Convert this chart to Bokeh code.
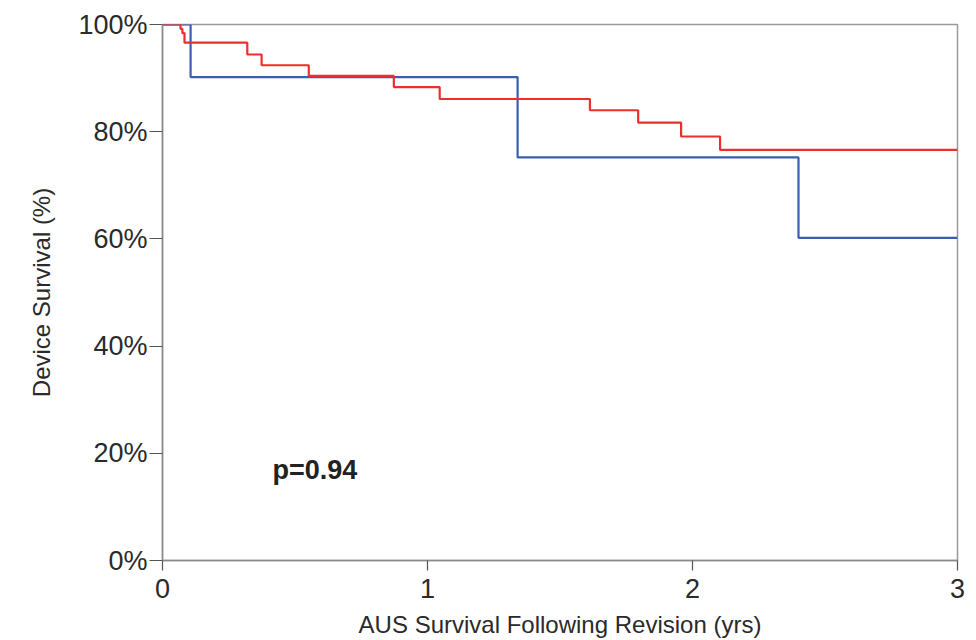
from bokeh.plotting import figure
from bokeh.models import Range1d, Label
from bokeh.embed import file_html
from bokeh.resources import INLINE

# Kaplan-Meier style step data (years, % survival)
red_t = [0.0, 0.068, 0.075, 0.083, 0.32, 0.374, 0.552, 0.873, 1.046, 1.613, 1.795, 1.957, 2.104, 3.0]
red_s = [100.0, 99.2, 98.4, 96.6, 94.4, 92.4, 90.4, 88.3, 86.1, 84.0, 81.7, 79.1, 76.6, 76.6]
blue_t = [0.0, 0.106, 1.34, 2.40, 3.0]
blue_s = [100.0, 90.2, 75.2, 60.2, 60.2]

x_ticks = [0, 1, 2, 3]
y_ticks = [0, 20, 40, 60, 80, 100]
y_tick_labels = ["0%", "20%", "40%", "60%", "80%", "100%"]
p_label = "p=0.94"

FONT = "Liberation Sans"

p = figure(width=976, height=640, output_backend="svg", toolbar_location=None,
           x_range=Range1d(0, 3), y_range=Range1d(0, 100),
           min_border_left=162, min_border_right=19, min_border_top=24, min_border_bottom=80)
p.background_fill_color = "white"
p.border_fill_color = "white"
p.outline_line_color = "#9a9a9a"
p.outline_line_width = 1.5
p.xgrid.visible = False
p.ygrid.visible = False

p.step(blue_t, blue_s, mode="after", line_color="#3a5fae", line_width=2.2)
p.step(red_t, red_s, mode="after", line_color="#ee2e2e", line_width=2.2)

for ax in (p.xaxis, p.yaxis):
    ax.axis_line_color = "#8a8a8a"
    ax.axis_line_width = 1.5
    ax.major_tick_line_color = "#555555"
    ax.major_tick_line_width = 1.2
    ax.minor_tick_line_color = None
    ax.major_tick_in = 0
    ax.major_label_text_font = FONT
    ax.major_label_text_font_size = "27px"
    ax.major_label_text_color = "#2a2a2a"
    ax.axis_label_text_font = FONT
    ax.axis_label_text_font_size = "24px"
    ax.axis_label_text_font_style = "normal"
    ax.axis_label_text_color = "#2a2a2a"

p.xaxis.ticker = x_ticks
p.xaxis.major_tick_out = 10
p.xaxis.major_label_standoff = 8
p.xaxis.axis_label = "AUS Survival Following Revision (yrs)"
p.xaxis.axis_label_standoff = 10

p.yaxis.ticker = y_ticks
p.yaxis.major_label_overrides = {t: l for t, l in zip(y_ticks, y_tick_labels)}
p.yaxis.major_tick_out = 13
p.yaxis.major_label_standoff = 2
p.yaxis.axis_label = "Device Survival (%)"
p.yaxis.axis_label_standoff = 20

p.add_layout(Label(x=0.415, y=16.8, text=p_label, text_font=FONT, text_font_size="27px",
                   text_font_style="bold", text_color="#222222",
                   text_baseline="middle", text_align="left"))

open("out.html", "w").write(file_html(p, INLINE))
